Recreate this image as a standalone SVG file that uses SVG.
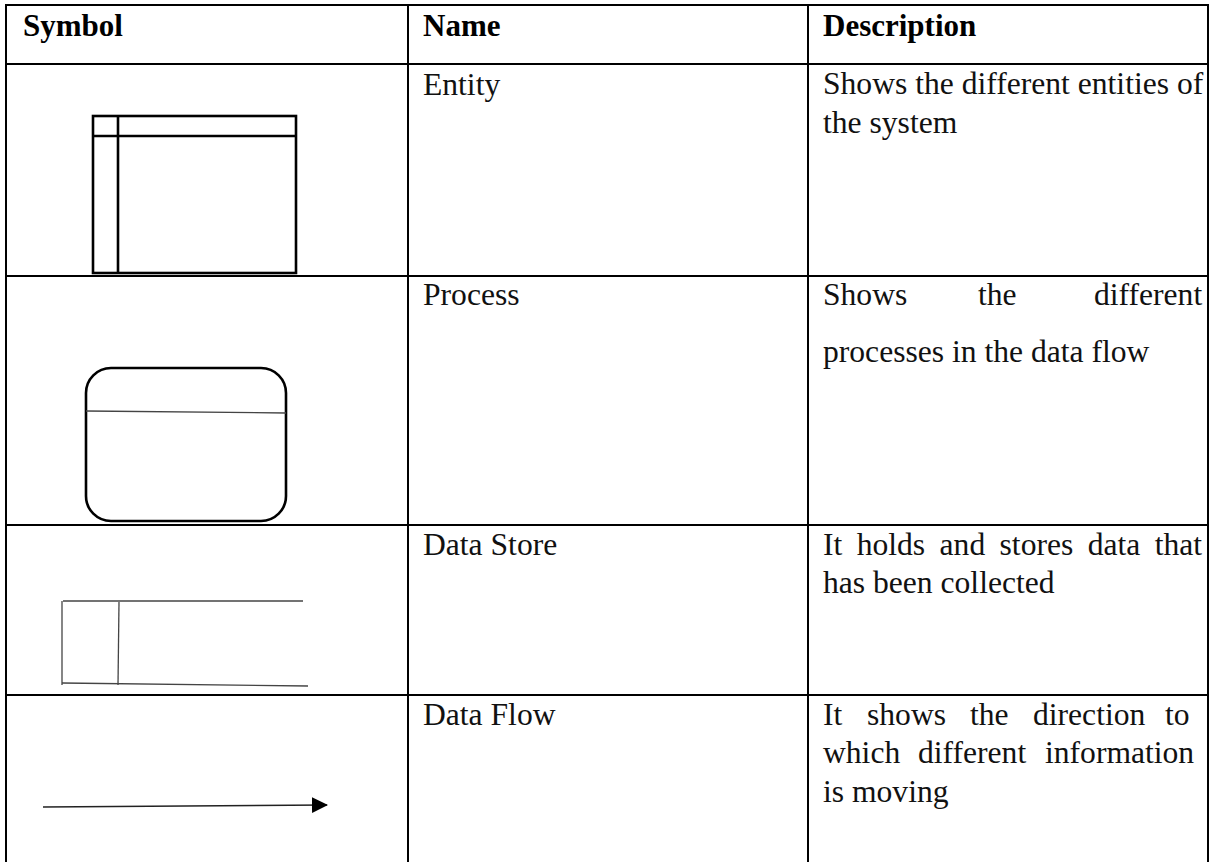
<svg xmlns="http://www.w3.org/2000/svg" width="1212" height="862" viewBox="0 0 1212 862">
  <style>
    .grid { stroke: #000; stroke-width: 2; fill: none; }
    .hd { font-family: "Liberation Serif", "Times New Roman", serif; font-weight: bold; font-size: 31px; fill: #000; }
    .tx { font-family: "Liberation Serif", "Times New Roman", serif; font-size: 31.6px; fill: #111; }
    .sym { stroke: #000; stroke-width: 2.6; fill: none; }
    .thin { stroke: #444; stroke-width: 1.3; fill: none; }
  </style>
  <defs>
    <marker id="arrowHead" markerWidth="16" markerHeight="18" refX="15" refY="8" orient="auto" markerUnits="userSpaceOnUse">
      <path d="M0,0 L16,8 L0,16 Z" fill="#000"/>
    </marker>
  </defs>
  <rect width="1212" height="862" fill="#fff"/>

  <!-- table grid -->
  <g id="table-grid" class="grid">
    <line x1="6" y1="5" x2="1209" y2="5"/>
    <line x1="6" y1="4" x2="6" y2="862"/>
    <line x1="408" y1="4" x2="408" y2="862"/>
    <line x1="808" y1="4" x2="808" y2="862"/>
    <line x1="1208" y1="4" x2="1208" y2="862"/>
    <line x1="5" y1="64" x2="1209" y2="64"/>
    <line x1="5" y1="276" x2="1209" y2="276"/>
    <line x1="5" y1="525" x2="1209" y2="525"/>
    <line x1="5" y1="695" x2="1209" y2="695"/>
  </g>

  <!-- header row -->
  <g id="header">
    <text class="hd" x="23" y="36">Symbol</text>
    <text class="hd" x="423" y="36">Name</text>
    <text class="hd" x="823" y="36">Description</text>
  </g>

  <!-- entity row -->
  <g id="entity">
    <rect class="sym" x="93" y="116" width="203" height="157"/>
    <line class="sym" x1="93" y1="136" x2="296" y2="136"/>
    <line class="sym" x1="118" y1="116" x2="118" y2="273"/>
    <text class="tx" x="423" y="95">Entity</text>
    <text class="tx" x="823" y="94">Shows the different entities of</text>
    <text class="tx" x="823" y="133">the system</text>
  </g>

  <!-- process row -->
  <g id="process">
    <rect class="sym" x="86" y="368" width="200" height="153" rx="25" ry="25" stroke-width="2.2"/>
    <line class="thin" x1="86" y1="411" x2="286" y2="413"/>
    <text class="tx" x="423" y="305">Process</text>
    <text class="tx" y="305"><tspan x="823">Shows</tspan><tspan x="978">the</tspan><tspan x="1094">different</tspan></text>
    <text class="tx" x="823" y="362">processes in the data flow</text>
  </g>

  <!-- data store row -->
  <g id="data-store">
    <line class="thin" x1="63" y1="601" x2="303" y2="601"/>
    <line class="thin" x1="62" y1="601" x2="62" y2="685"/>
    <line class="thin" x1="119" y1="602" x2="118" y2="685"/>
    <line class="thin" x1="62" y1="683" x2="308" y2="686"/>
    <text class="tx" x="423" y="555">Data Store</text>
    <text class="tx" x="823" y="555" word-spacing="6.5">It holds and stores data that</text>
    <text class="tx" x="823" y="593">has been collected</text>
  </g>

  <!-- data flow row -->
  <g id="data-flow">
    <text class="tx" x="423" y="725">Data Flow</text>
    <text class="tx" y="725"><tspan x="823">It</tspan><tspan x="867">shows</tspan><tspan x="970">the</tspan><tspan x="1033">direction</tspan><tspan x="1165">to</tspan></text>
    <text class="tx" y="763"><tspan x="823">which</tspan><tspan x="918">different</tspan><tspan x="1045">information</tspan></text>
    <text class="tx" x="823" y="802">is moving</text>
  </g>

  <!-- connectors -->
  <g id="connectors">
    <line x1="43" y1="807" x2="327" y2="805" stroke="#222" stroke-width="1.5" marker-end="url(#arrowHead)"/>
  </g>
</svg>
